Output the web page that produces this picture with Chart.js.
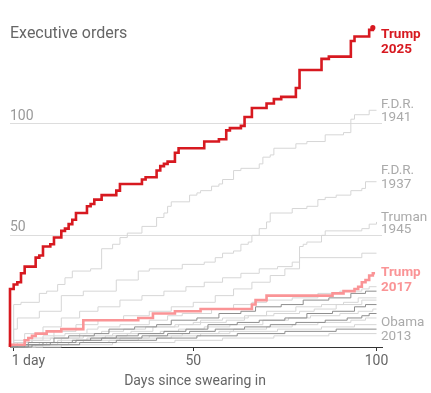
<!DOCTYPE html>
<html>
<head>
<meta charset="utf-8">
<script src="https://cdn.jsdelivr.net/npm/chart.js@4.4.1/dist/chart.umd.min.js"></script>
<style>
  html, body { margin: 0; padding: 0; background: #fff; }
  #wrap { width: 431px; height: 393px; }
</style>
</head>
<body>
<div id="wrap"><canvas id="chart" width="431" height="393"></canvas></div>
<script>
// [día, órdenes acumuladas] - el escalón sube en ese día
const trump2025 = [[0,0],[0,26],[1,28],[2,29],[3,33],[4,36],[7,40],[8,41],[9,45],[11,46],[12,49],[14,52],[15,53],[16,55],[17,57],[18,60],[21,63],[22,64],[23,66],[25,68],[29,70],[30,73],[36,75],[37,76],[40,79],[41,81],[42,82],[43,83],[45,87],[46,89],[53,92],[57,93],[59,97],[60,98],[63,99],[64,103],[66,107],[70,109],[72,111],[74,112],[78,116],[79,124],[85,129],[87,130],[93,137],[94,139],[98,142],[99,143]];
const trump2017 = [[0,0],[0,1],[4,3],[5,4],[6,5],[7,6],[10,7],[14,8],[20,12],[35,13],[39,15],[45,16],[52,17],[66,19],[67,21],[70,23],[88,24],[91,25],[94,26],[95,27],[96,29],[97,30],[98,32],[99,33],[99.6,33]];
const fdr1941 = [[0,0],[1,19],[3,20],[8,24],[10,25],[13,28],[15,31],[17,34],[22,35],[25,44],[28,46],[30,49],[32,51],[36,54],[40,58],[42,60],[43,63],[44,65],[49,68],[51,69],[52,70],[55,72],[57,73],[58,75],[61,79],[63,80],[68,82],[69,85],[71,86],[72,89],[78,91],[81,92],[86,95],[91,96],[93,102],[94,104],[98,106],[100,106]];
const fdr1937 = [[0,0],[1,8],[2,13],[8,16],[14,23],[20,25],[29,30],[35,34],[38,35],[47,37],[53,38],[56,40],[58,42],[61,43],[63,46],[65,47],[66,50],[68,53],[70,56],[71,60],[77,62],[81,63],[84,66],[86,67],[89,68],[93,70],[96,71],[97,74],[100,74]];
const truman1945 = [[0,0],[1,3],[4,6],[9,9],[14,13],[19,16],[24,18],[30,21],[36,23],[42,25],[48,27],[53,29],[58,31],[63,33],[68,35],[73,36],[77,38],[79,45],[80,46],[81,47],[85,50],[86,52],[96,53],[98,55],[100,56]];
const otro1 = [[0,0],[2,2],[6,4],[12,7],[18,10],[24,12],[31,14],[38,16],[44,18],[50,20],[56,23],[61,26],[66,29],[71,32],[75,35],[79,40],[96,42],[100,42]];
const obama2013 = [[0,0],[9,1],[16,2],[27,3],[35,4],[44,5],[52,6],[60,7],[73,8],[85,9],[94,10],[100,10]];
// resto de presidentes (grupo de abajo)
const otrosClaros = [
  [[0,0],[1,2],[6,3],[9,5],[15,6],[21,8],[24,9],[30,10],[38,12],[43,14],[47,15],[55,17],[61,19],[66,20],[70,21],[77,22],[84,24],[90,25],[96,26],[98,27],[100,27]],
  [[0,0],[3,1],[10,2],[14,4],[20,5],[28,6],[33,7],[39,9],[46,10],[52,12],[58,13],[65,14],[70,16],[78,18],[85,19],[91,20],[95,22],[100,22]],
  [[0,0],[1,1],[4,3],[11,4],[19,6],[25,7],[31,8],[37,9],[45,10],[50,11],[59,12],[64,14],[72,15],[79,16],[83,17],[89,19],[96,21],[100,21]],
  [[0,0],[2,1],[8,2],[13,3],[21,4],[26,5],[32,6],[41,7],[46,8],[53,9],[60,10],[69,12],[76,13],[82,14],[90,15],[95,16],[99,17],[100,17]],
  [[0,0],[7,1],[13,2],[20,3],[30,4],[38,5],[47,6],[57,7],[61,8],[70,9],[77,10],[84,11],[93,12],[97,13],[100,13]],
  [[0,0],[14,1],[28,2],[45,3],[58,4],[72,5],[87,6],[100,6]],
];
const otrosOscuros = [
  [[0,0],[2,1],[5,2],[12,4],[16,5],[23,6],[27,8],[34,9],[40,10],[44,12],[51,13],[57,15],[63,16],[67,18],[74,19],[80,21],[87,22],[93,24],[97,25],[100,25]],
  [[0,0],[4,1],[9,2],[18,3],[22,4],[29,5],[35,6],[42,7],[48,8],[54,10],[62,11],[68,12],[75,13],[81,15],[88,16],[94,18],[97,19],[100,19]],
  [[0,0],[5,1],[11,2],[17,3],[25,4],[36,5],[43,6],[49,7],[56,8],[64,9],[71,10],[78,11],[86,12],[92,13],[96,14],[98,15],[100,15]],
  [[0,0],[6,1],[19,2],[29,3],[40,4],[51,5],[62,6],[75,7],[89,8],[100,8]],
];

const xTicks = [1, 50, 100];
const xTickLabels = ["1 day", "50", "100"];
const yTicks = [50, 100];
const titulo = "Executive orders";
const tituloX = "Days since swearing in";
const etiquetas = [["Trump", "2025"], ["F.D.R.", "1941"], ["F.D.R.", "1937"], ["Truman", "1945"], ["Trump", "2017"], ["Obama", "2013"]];

const ROJO = "#d71920";
const ROSA = "#fa9496";
const GRIS = "#d6d6d6";
const GRIS_OSCURO = "#8e8e8e";
const FUENTE = "Roboto, 'Liberation Sans', sans-serif";

function serie(puntos, color, ancho) {
    return {
        data: puntos.map(([d, n]) => ({ x: d, y: n })),
        borderColor: color,
        borderWidth: ancho,
        stepped: true,
        pointRadius: 0,
        fill: false,
        clip: false,
    };
}

const ultimo = trump2025.length - 1;
const dsTrump = serie(trump2025, ROJO, 2.6);
dsTrump.pointRadius = (c) => (c.dataIndex === ultimo ? 2.6 : 0);
dsTrump.pointBackgroundColor = ROJO;
dsTrump.pointBorderWidth = 0;

const datasets = [
    dsTrump,
    serie(trump2017, ROSA, 2.6),
    ...otrosOscuros.map((p) => serie(p, GRIS_OSCURO, 1)),
    serie(fdr1941, GRIS, 1),
    serie(fdr1937, GRIS, 1),
    serie(truman1945, GRIS, 1),
    serie(otro1, GRIS, 1),
    serie(obama2013, GRIS, 1),
    ...otrosClaros.map((p) => serie(p, GRIS, 1)),
];

// Textos: título, etiquetas de ejes y nombres a la derecha
const textos = {
    id: "textos",
    afterDraw(chart) {
        const { ctx } = chart;
        const x = chart.scales.x, y = chart.scales.y;
        ctx.save();
        ctx.textBaseline = "alphabetic";
        ctx.textAlign = "left";
        ctx.font = "16px " + FUENTE;
        ctx.fillStyle = "#666";
        ctx.fillText(titulo, 10, 38);

        ctx.font = "14px " + FUENTE;
        ctx.fillStyle = "#999";
        yTicks.forEach((v) => ctx.fillText(String(v), 10, y.getPixelForValue(v) - 4));

        ctx.fillStyle = "#666";
        xTicks.forEach((v, i) => {
            const px = x.getPixelForValue(v);
            ctx.textAlign = i === 0 ? "left" : "center";
            ctx.fillText(xTickLabels[i], i === 0 ? px - 2 : px, 365);
        });
        ctx.textAlign = "center";
        ctx.fillText(tituloX, 195, 385);

        // nombres a la derecha
        const lineas = [[38, 53], [107.5, 121], [173.5, 188], [220.5, 233], [276, 290.5], [326, 340]];
        ctx.textAlign = "left";
        etiquetas.forEach((e, i) => {
            const destacado = i === 0 || i === 4;
            ctx.font = (destacado ? "bold 13.5px " : "13.5px ") + FUENTE;
            ctx.fillStyle = i === 0 ? ROJO : i === 4 ? ROSA : "#aaa";
            ctx.fillText(e[0], 381, lineas[i][0]);
            ctx.fillText(e[1], 381, lineas[i][1]);
        });
        ctx.restore();
    },
};

new Chart(document.getElementById("chart").getContext("2d"), {
    type: "line",
    data: { datasets },
    options: {
        responsive: false,
        animation: false,
        devicePixelRatio: 1,
        layout: { padding: { left: 10, right: 49, top: 12, bottom: 42 } },
        plugins: { legend: { display: false }, tooltip: { enabled: false } },
        scales: {
            x: {
                type: "linear",
                min: 0,
                max: 101.5,
                afterBuildTicks: (axis) => { axis.ticks = xTicks.map((v) => ({ value: v })); },
                ticks: { display: false },
                grid: { display: true, drawOnChartArea: false, drawTicks: true, tickLength: 4, color: "#333" },
                border: { display: true, color: "#333", width: 1 },
            },
            y: {
                type: "linear",
                min: 0,
                max: 150,
                afterBuildTicks: (axis) => { axis.ticks = yTicks.map((v) => ({ value: v })); },
                ticks: { display: false },
                grid: { color: "#ddd", drawTicks: false },
                border: { display: false },
            },
        },
    },
    plugins: [textos],
});
</script>
</body>
</html>
